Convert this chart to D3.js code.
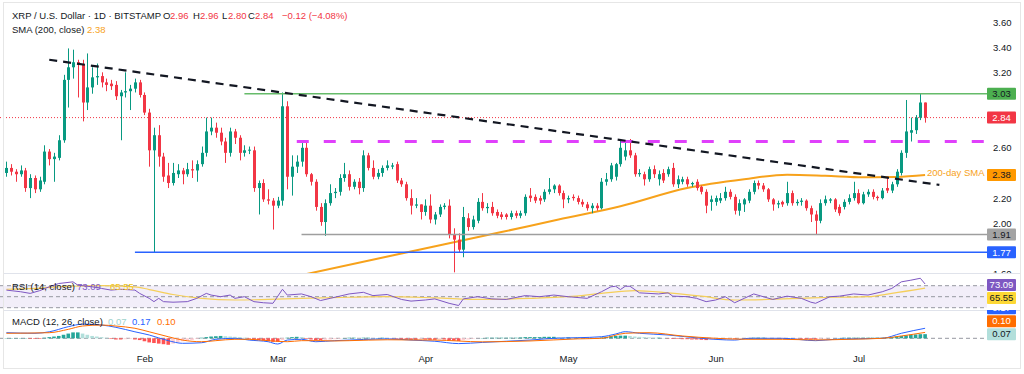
<!DOCTYPE html>
<html>
<head>
<meta charset="utf-8">
<title>XRP / U.S. Dollar</title>
<script src="https://cdn.jsdelivr.net/npm/d3@7"></script>
<style>
    body { margin: 0; background: #ffffff; }
    #chart svg { display: block; font-family: "Liberation Sans", Arial, sans-serif; }
</style>
</head>
<body>
<div id="chart"></div>
<script>
// daily candles, one per day from startDay to endDay
const startDay = "2025-01-03";
const endDay = "2025-07-15";

const opens = [
    2.40,2.44,2.41,2.39,2.42,2.28,2.36,2.27,2.33,2.57, 2.51,2.52,2.66,3.14,3.24,3.28,3.26,2.96,3.08,3.16,
    3.17,3.12,3.11,3.10,3.01,3.04,3.05,3.07,3.12,3.02, 2.88,2.58,2.70,2.53,2.38,2.32,2.39,2.42,2.39,2.43,
    2.42,2.47,2.56,2.73,2.76,2.72,2.65,2.56,2.73,2.68, 2.56,2.58,2.58,2.28,2.32,2.19,2.18,2.14,2.18,2.93,
    2.37,2.45,2.49,2.60,2.39,2.33,2.13,2.01,2.16,2.24, 2.25,2.36,2.39,2.29,2.33,2.28,2.54,2.44,2.37,2.40,
    2.44,2.45,2.47,2.34,2.31,2.20,2.14,2.15,2.09,2.14, 2.03,2.07,2.13,2.14,1.91,1.87,1.79,2.04,1.97,2.02,
    2.17,2.12,2.13,2.09,2.07,2.07,2.05,2.08,2.06,2.08, 2.22,2.21,2.20,2.19,2.25,2.27,2.30,2.24,2.19,2.21,
    2.20,2.17,2.15,2.12,2.14,2.12,2.33,2.35,2.37,2.47, 2.53,2.58,2.54,2.39,2.39,2.35,2.43,2.35,2.40,2.39,
    2.44,2.31,2.33,2.35,2.31,2.33,2.29,2.25,2.17,2.17, 2.18,2.20,2.25,2.21,2.10,2.15,2.18,2.25,2.32,2.30,
    2.27,2.19,2.15,2.17,2.16,2.24,2.16,2.17,2.18,2.12, 2.07,2.02,2.16,2.18,2.19,2.13,2.13,2.17,2.20,2.24,
    2.16,2.23,2.25,2.21,2.20,2.28,2.26,2.31,2.40,2.56, 2.72,2.74,2.84,2.96
];
const highs = [
    2.49,2.47,2.43,2.46,2.44,2.39,2.38,2.37,2.62,2.59, 2.56,2.70,3.18,3.39,3.38,3.30,3.30,3.35,3.24,3.27,
    3.20,3.15,3.14,3.13,3.06,3.20,3.10,3.15,3.14,3.04, 2.91,2.76,2.78,2.56,2.48,2.48,2.47,2.44,2.48,2.50,
    2.50,2.61,2.84,2.84,2.80,2.76,2.68,2.76,2.75,2.70, 2.62,2.61,2.61,2.34,2.35,2.27,2.20,2.21,3.04,2.97,
    2.54,2.54,2.64,2.64,2.40,2.35,2.16,2.19,2.31,2.28, 2.39,2.48,2.42,2.35,2.36,2.58,2.56,2.50,2.43,2.46,
    2.50,2.48,2.49,2.36,2.33,2.27,2.20,2.15,2.19,2.23, 2.09,2.15,2.16,2.19,1.96,1.92,2.13,2.08,2.06,2.20,
    2.24,2.16,2.17,2.11,2.09,2.08,2.10,2.10,2.10,2.23, 2.28,2.23,2.22,2.27,2.36,2.31,2.31,2.26,2.22,2.23,
    2.22,2.19,2.17,2.16,2.16,2.36,2.40,2.48,2.48,2.67, 2.65,2.67,2.56,2.43,2.41,2.45,2.46,2.42,2.43,2.45,
    2.48,2.38,2.37,2.37,2.33,2.35,2.30,2.27,2.22,2.22, 2.24,2.29,2.27,2.23,2.19,2.20,2.27,2.34,2.34,2.32,
    2.28,2.20,2.18,2.18,2.33,2.26,2.19,2.20,2.19,2.14, 2.10,2.19,2.22,2.20,2.20,2.15,2.19,2.23,2.33,2.27,
    2.25,2.27,2.27,2.22,2.28,2.37,2.33,2.43,2.58,2.98, 2.84,2.86,3.03,2.96
];
const lows = [
    2.37,2.38,2.33,2.37,2.25,2.20,2.24,2.25,2.31,2.46, 2.33,2.50,2.64,2.92,3.15,3.00,2.81,2.90,3.03,3.10,
    3.08,3.05,3.06,2.98,2.66,3.00,2.90,3.04,3.00,2.86, 2.45,1.77,2.45,2.33,2.28,2.30,2.36,2.31,2.37,2.36,
    2.33,2.45,2.53,2.70,2.68,2.62,2.48,2.53,2.63,2.50, 2.53,2.55,2.25,2.07,2.17,2.15,1.95,2.12,2.14,2.27,
    2.22,2.40,2.45,2.37,2.30,2.10,1.98,1.90,2.14,2.20, 2.22,2.33,2.26,2.27,2.23,2.25,2.42,2.35,2.35,2.37,
    2.42,2.43,2.32,2.29,2.18,2.07,2.12,2.03,2.06,2.00, 1.99,2.05,2.11,1.88,1.61,1.77,1.73,1.94,1.95,2.00,
    2.10,2.08,2.06,2.04,2.03,2.03,2.03,2.04,2.04,2.06, 2.17,2.16,2.15,2.17,2.23,2.24,2.22,2.12,2.16,2.18,
    2.15,2.13,2.10,2.08,2.10,2.11,2.30,2.33,2.34,2.45, 2.50,2.52,2.37,2.37,2.30,2.33,2.36,2.30,2.32,2.37,
    2.29,2.28,2.31,2.29,2.29,2.26,2.23,2.08,2.10,2.14, 2.16,2.18,2.19,2.07,2.06,2.09,2.16,2.23,2.27,2.25,
    2.17,2.10,2.12,2.13,2.14,2.14,2.14,2.14,2.10,2.01, 1.91,2.00,2.14,2.16,2.09,2.06,2.11,2.15,2.18,2.15,
    2.15,2.21,2.19,2.18,2.19,2.24,2.24,2.29,2.38,2.52, 2.65,2.71,2.82,2.80
];
const closes = [
    2.44,2.41,2.39,2.42,2.28,2.36,2.27,2.34,2.57,2.51, 2.53,2.66,3.14,3.24,3.28,3.26,2.96,3.08,3.16,3.17,
    3.12,3.10,3.09,3.01,3.04,3.05,3.07,3.12,3.02,2.88, 2.58,2.70,2.53,2.37,2.32,2.40,2.42,2.39,2.43,2.42,
    2.47,2.56,2.73,2.76,2.72,2.65,2.56,2.73,2.68,2.56, 2.58,2.585,2.28,2.32,2.19,2.18,2.14,2.18,2.93,2.37,
    2.45,2.49,2.60,2.39,2.33,2.13,2.01,2.16,2.24,2.25, 2.36,2.39,2.29,2.33,2.28,2.54,2.44,2.37,2.40,2.44,
    2.46,2.46,2.34,2.31,2.20,2.14,2.15,2.09,2.14,2.03, 2.07,2.13,2.14,1.91,1.87,1.79,2.05,1.97,2.03,2.17,
    2.12,2.13,2.08,2.06,2.05,2.05,2.08,2.06,2.08,2.21, 2.20,2.18,2.18,2.25,2.27,2.30,2.24,2.19,2.20,2.20,
    2.17,2.15,2.12,2.14,2.12,2.33,2.35,2.46,2.47,2.60, 2.58,2.54,2.39,2.40,2.35,2.43,2.39,2.39,2.34,2.43,
    2.31,2.35,2.35,2.31,2.32,2.28,2.25,2.14,2.19,2.20, 2.20,2.25,2.21,2.10,2.16,2.19,2.25,2.32,2.30,2.27,
    2.19,2.15,2.16,2.15,2.24,2.16,2.17,2.18,2.12,2.07, 2.02,2.16,2.19,2.19,2.11,2.08,2.17,2.20,2.24,2.16,
    2.23,2.25,2.21,2.20,2.26,2.26,2.31,2.41,2.56,2.73, 2.74,2.84,2.96,2.84
];

// 200-day SMA, read at points along the curve (MM-DD, 2025)
const smaDates = ["03-06","03-27","04-17","04-29","05-12","05-26","06-07","06-16","06-24","07-02","07-09","07-15"];
const smaValues = [1.588, 1.76, 1.93, 2.03, 2.135, 2.28, 2.35, 2.386, 2.378, 2.366, 2.368, 2.383];

// drawn trend line and horizontal levels
const trendDates = ["01-12", "07-18"];
const trendPrices = [3.30, 2.305];
const levelNames = ["top", "neckline", "floor", "base"];
const levelPrices = [3.03, 2.65, 1.91, 1.77];
const levelStarts = ["02-22", "03-05", "03-06", "01-30"];

// RSI (14) and its moving average
const rsiDates = ["01-03","01-06","01-08","01-10","01-12","01-14","01-17","01-18","01-21","01-23","01-25","01-27","01-30","01-31",
    "02-02","02-03","02-04","02-05","02-07","02-10","02-12","02-14","02-15","02-17","02-19","02-20","02-22","02-24","02-26","02-28",
    "03-02","03-03","03-06","03-08","03-10","03-12","03-14","03-16","03-19","03-21","03-24","03-27","03-29",
    "04-01","04-03","04-06","04-08","04-09","04-12","04-15","04-18","04-22","04-25","04-28",
    "05-01","05-05","05-08","05-10","05-11","05-12","05-13","05-14","05-16","05-18","05-20","05-22","05-23","05-26","05-28","05-30",
    "06-01","06-03","06-05","06-07","06-09","06-11","06-13","06-16","06-19","06-21","06-22","06-25","06-27","06-30",
    "07-03","07-06","07-08","07-10","07-12","07-14","07-15"];
const rsiValues = [62,59,56,61,68,74,77,71,68,65,62,63.5,62,56,
    47,41,47,41,40,41,47,56,53,50,53,47,50,41,39,38,
    63.5,53,55,50,43,47,51,55,58,52,54,45,42,
    44,46,38,34,46,50,46,45,52,50,53,
    50,47,59,68,69,63,69,69,57,56,55,57,51,50,47,41,
    44,50,39,47,55,50,45,51,47,40,38,50,51,55,
    53,59,65,77,80,83.5,73.09];
const rsiMaDates = ["01-03","01-09","01-16","01-23","01-30","02-02","02-07","02-13","02-20","02-27","03-06","03-16","03-24",
    "04-03","04-13","04-23","05-01","05-08","05-15","05-22","05-29","06-05","06-12","06-19","06-26","07-03","07-08","07-15"];
const rsiMaValues = [63.5,65,69,70,68,63,54,47,44,45,47,49,50,48,45,47,50,56,61,57,51,44,45,47,49,50,56,65.55];

// MACD (12, 26) line, signal line and daily histogram
const macdDates = ["01-03","01-09","01-12","01-16","01-19","01-23","01-26","01-30","02-02","02-06","02-09","02-13","02-16","02-20",
    "02-23","02-27","03-01","03-03","03-06","03-09","03-13","03-16","03-19","03-24","03-29","04-03","04-08","04-13","04-18",
    "04-23","04-28","05-03","05-08","05-11","05-13","05-16","05-22","05-29","06-05","06-08","06-15","06-22","06-26","07-06","07-10","07-15"];
const macdValues = [0.095,0.085,0.11,0.197,0.24,0.225,0.186,0.11,0.056,-0.04,-0.085,-0.075,-0.017,0,
    -0.03,-0.058,-0.097,-0.03,-0.017,-0.058,-0.04,-0.03,-0.02,-0.01,-0.03,-0.05,-0.09,-0.07,-0.05,
    -0.03,0,0.01,0.027,0.073,0.112,0.085,0.056,0,-0.03,0,0,-0.04,-0.017,0,0.085,0.17];
const signalDates = ["01-03","01-12","01-16","01-19","01-23","01-26","01-30","02-02","02-06","02-09","02-13","02-16","02-20",
    "02-23","02-27","03-03","03-06","03-10","03-13","03-16","03-24","04-03","04-13","04-23","05-03","05-08","05-13","05-18",
    "05-25","06-01","06-08","06-15","06-22","06-29","07-06","07-10","07-15"];
const signalValues = [0.085,0.095,0.152,0.208,0.225,0.208,0.17,0.11,0.027,-0.03,-0.058,-0.04,-0.017,
    -0.017,-0.04,-0.058,-0.04,-0.04,-0.045,-0.04,-0.025,-0.03,-0.06,-0.045,-0.01,0,0.085,0.095,
    0.039,0,-0.017,-0.017,-0.028,-0.017,0,0.039,0.10];
const histValues = [
    0.005,0.005,0.005,0.005,0.005, -0.01,-0.01,-0.01,
    0.01,0.02,0.03,0.04,0.06,0.08,0.10,0.10, 0.08,0.06,0.04,0.03,0.02,0.01,
    -0.01,-0.02,-0.02,-0.015,-0.01,-0.02, -0.03,-0.05,-0.07,-0.08,-0.09,-0.10,-0.11,
    -0.09,-0.07,-0.05,-0.04,-0.03,-0.01,
    0.01,0.02,0.03,0.035,0.04,0.035,0.03,0.025,0.02,0.01,
    -0.01,-0.02,-0.03,-0.04,-0.05,-0.06,-0.06, -0.03,0.01,0.02,0.025,0.02,
    -0.01,-0.02,-0.03,-0.03,-0.025,-0.02,-0.015,-0.01,
    0.005,0.01,0.01,0.005,0.01,0.01,0.005,0.005,0.01,0.005,
    -0.005,-0.01,-0.015,-0.02,-0.025,-0.025,-0.02,-0.02,-0.025,-0.025,-0.02,-0.02,-0.03,-0.04,-0.045,
    -0.03,-0.02,-0.01,0,0.005,0.01,0.01,0.01,0.01,0.01,0.01,0.01,0.015,0.02,0.02,
    0.02,0.02,0.025,0.025,0.025,0.02,0.015,0.015,0.01,0.01,0.005,0.005,0.005,0.005,
    0.015,0.025,0.035,0.04,0.045,0.045,0.04,0.03,0.025,0.02, 0.015,0.01,0.01,0.005,
    -0.005,-0.01,-0.01,-0.015,-0.015,-0.02,-0.02,-0.025,-0.03,-0.025,-0.02,-0.02,-0.015,-0.01,
    -0.01,-0.005,0,0.005,0.01,0.01, 0.01,0.005,0,-0.005,-0.005,0,0,-0.005,
    -0.01,-0.015,-0.02,-0.02,-0.015,-0.01,-0.005,0,0.005,
    0.01,0.01,0.01,0.01,0.01,0.01,0.01,0.01,0.01,0.015,0.02,
    0.03,0.04,0.05,0.06,0.065,0.07,0.07
];

// axis ticks
const priceTicks = [3.60, 3.40, 3.20, 3.00, 2.80, 2.60, 2.40, 2.20, 2.00, 1.80, 1.60];
const rsiGuides = [70, 50, 30];

const parseDay = d3.utcParse("%Y-%m-%d");
function md(s) { return parseDay("2025-" + s); }
function pairs(dates, values) {
    return dates.map(function(d, i) { return {date: md(d), value: values[i]} });
}

const plotRight = 987;
const fmt = d3.format(".2f");

function init() {
    const svg = d3.select("#chart").append("svg")
        .attr("width", 1024)
        .attr("height", 374);

    svg.append("rect").attr("width", 1024).attr("height", 374).attr("fill", "#ffffff");

    const days = d3.utcDay.range(parseDay(startDay), d3.utcDay.offset(parseDay(endDay), 1));

    const x = d3.scaleUtc()
        .domain([parseDay(startDay), parseDay(endDay)])
        .range([6.4, 925.1]);
    const y = d3.scaleLinear().domain([1.60, 3.60]).range([273.6, 22]);
    const yRsi = d3.scaleLinear().domain([30, 70]).range([307.7, 285.7]);
    const yMacd = d3.scaleLinear().domain([-0.1, 0.2]).range([344.2, 326.5]);

    // clip regions for the three panes
    const defs = svg.append("defs");
    [["clip-main", 0, 273, plotRight], ["clip-rsi", 274, 36, plotRight], ["clip-macd", 311, 37, plotRight],
     ["clip-axis", 0, 273, 1024], ["clip-macd-tags", 310, 40, 1024]].forEach(function(c) {
        defs.append("clipPath").attr("id", c[0]).append("rect")
            .attr("x", 0).attr("y", c[1]).attr("width", c[3]).attr("height", c[2]);
    });

    drawMain(svg, days, x, y);
    drawRsi(svg, x, yRsi);
    drawMacd(svg, days, x, yMacd);

    // pane separators and frame
    [273.5, 310.5].forEach(function(v) {
        svg.append("line").attr("x1", 4).attr("x2", 1020).attr("y1", v).attr("y2", v)
            .attr("stroke", "#e0e3eb").attr("stroke-width", 1);
    });
    svg.append("rect").attr("x", 3.5).attr("y", 2.5).attr("width", 1017).attr("height", 366)
        .attr("fill", "none").attr("stroke", "#e6e6e6");

    // tags on the price scale
    const lastClose = closes[closes.length - 1];
    const lastSma = smaValues[smaValues.length - 1];
    const tagPrices = [levelPrices[0], lastClose, lastSma, levelPrices[2], levelPrices[3]];

    // price axis, skipping the ticks hidden under a tag
    const yAxis = svg.append("g")
        .attr("transform", "translate(993,0)")
        .attr("clip-path", "url(#clip-axis)")
        .style("font-size", "9.5px")
        .call(d3.axisRight(y)
            .tickValues(priceTicks.filter(p => tagPrices.every(t => Math.abs(y(p) - y(t)) > 9)))
            .tickSize(0).tickPadding(0).tickFormat(fmt));
    yAxis.select(".domain").remove();
    yAxis.selectAll("text").attr("fill", "#131722").style("font-family", "Liberation Sans, Arial, sans-serif");

    // time axis
    const xAxis = svg.append("g")
        .attr("transform", "translate(0,355.5)")
        .style("font-size", "9.5px")
        .call(d3.axisBottom(x).ticks(d3.utcMonth.every(1)).tickSize(0).tickPadding(0).tickFormat(d3.utcFormat("%b")));
    xAxis.select(".domain").remove();
    xAxis.selectAll("text").attr("fill", "#131722").style("font-family", "Liberation Sans, Arial, sans-serif");

    priceTag(svg, y(levelPrices[0]), fmt(levelPrices[0]), "#4caf50", "#131722");
    priceTag(svg, y(lastClose), fmt(lastClose), "#f23645", "#ffffff");
    priceTag(svg, y(lastSma), fmt(lastSma), "#ff9800", "#131722");
    priceTag(svg, y(levelPrices[2]), fmt(levelPrices[2]), "#a3a3a3", "#131722");
    priceTag(svg, y(levelPrices[3]), fmt(levelPrices[3]), "#2962ff", "#ffffff");

    const rsiLast = rsiValues[rsiValues.length - 1];
    const rsiMaLast = rsiMaValues[rsiMaValues.length - 1];
    const rsiTagY = yRsi(rsiLast) + 1;
    priceTag(svg, rsiTagY, fmt(rsiLast), "#7e57c2", "#ffffff");
    priceTag(svg, Math.max(yRsi(rsiMaLast), rsiTagY + 13), fmt(rsiMaLast), "#fdd835", "#131722");

    // macd tags stack upwards from the histogram tag
    const macdLast = macdValues[macdValues.length - 1];
    const signalLast = signalValues[signalValues.length - 1];
    const histLast = histValues[histValues.length - 1];
    const histTagY = yMacd(histLast);
    const tagsMacd = svg.append("g").attr("clip-path", "url(#clip-macd-tags)");
    priceTag(tagsMacd, histTagY - 26, fmt(macdLast), "#2962ff", "#ffffff");
    priceTag(tagsMacd, histTagY - 13, fmt(signalLast), "#ff6d00", "#ffffff");
    priceTag(tagsMacd, histTagY, fmt(histLast), "#b2dfdb", "#131722");

    // legends
    legend(svg, 19, [
        ["XRP / U.S. Dollar · 1D · BITSTAMP", "#131722", 12],
        ["O", "#131722", 163], ["2.96", "#f23645", 170],
        ["H", "#131722", 193], ["2.96", "#f23645", 200],
        ["L", "#131722", 222], ["2.80", "#f23645", 228],
        ["C", "#131722", 248], ["2.84", "#f23645", 255],
        ["−0.12 (−4.08%)", "#f23645", 282]
    ]);
    legend(svg, 33, [["SMA (200, close)", "#131722", 12], ["2.38", "#f7a21b", 87]]);
    legend(svg, 290, [["RSI (14, close)", "#131722", 12], ["73.09", "#7e57c2", 77], ["65.55", "#f0c419", 110]]);
    legend(svg, 325, [["MACD (12, 26, close)", "#131722", 12], ["0.07", "#9fd3cd", 108], ["0.17", "#2962ff", 132], ["0.10", "#ff6d00", 157]]);
}

function drawMain(svg, days, x, y) {
    const g = svg.append("g").attr("clip-path", "url(#clip-main)");

    const candles = days.map(function(d, i) {
        return {date: d, o: opens[i], h: highs[i], l: lows[i], c: closes[i]};
    });

    // current price dotted line
    g.append("line")
        .attr("x1", 0).attr("x2", plotRight)
        .attr("y1", y(closes[closes.length - 1])).attr("y2", y(closes[closes.length - 1]))
        .attr("stroke", "#f23645").attr("stroke-width", 1).attr("stroke-dasharray", "1,2");

    // 200 SMA
    g.append("path")
        .datum(pairs(smaDates, smaValues))
        .attr("fill", "none")
        .attr("stroke", "#f7a21b")
        .attr("stroke-width", 2)
        .attr("d", d3.line().x(d => x(d.date)).y(d => y(d.value)).curve(d3.curveMonotoneX));

    // candles
    const up = "#089981", down = "#f23645";
    g.selectAll("line.wick").data(candles).enter().append("line")
        .attr("class", "wick")
        .attr("x1", d => Math.round(x(d.date)) + 0.5)
        .attr("x2", d => Math.round(x(d.date)) + 0.5)
        .attr("y1", d => y(d.h))
        .attr("y2", d => y(d.l))
        .attr("stroke", d => d.c >= d.o ? up : down)
        .attr("stroke-width", 1);
    g.selectAll("rect.body").data(candles).enter().append("rect")
        .attr("class", "body")
        .attr("x", d => Math.round(x(d.date)) - 1)
        .attr("width", 3)
        .attr("y", d => y(Math.max(d.o, d.c)))
        .attr("height", d => Math.max(1, Math.abs(y(d.o) - y(d.c))))
        .attr("fill", d => d.c >= d.o ? up : down);

    // horizontal levels
    const levelStyle = {
        top: {color: "#66bb6a", width: 1.5, dash: null},
        neckline: {color: "#e040fb", width: 3, dash: "12,15"},
        floor: {color: "#9e9e9e", width: 1.5, dash: null},
        base: {color: "#2962ff", width: 1.5, dash: null}
    };
    levelNames.forEach(function(name, i) {
        const s = levelStyle[name];
        g.append("line")
            .attr("x1", x(md(levelStarts[i]))).attr("x2", plotRight)
            .attr("y1", y(levelPrices[i])).attr("y2", y(levelPrices[i]))
            .attr("stroke", s.color).attr("stroke-width", s.width)
            .attr("stroke-dasharray", s.dash);
    });

    // falling trend line
    g.append("line")
        .attr("x1", x(md(trendDates[0]))).attr("y1", y(trendPrices[0]))
        .attr("x2", x(md(trendDates[1]))).attr("y2", y(trendPrices[1]))
        .attr("stroke", "#131722").attr("stroke-width", 2.2).attr("stroke-dasharray", "8,6");

    // sma label
    svg.append("text")
        .attr("x", 927).attr("y", 176)
        .attr("fill", "#f7a21b")
        .style("font-size", "9.5px")
        .text("200-day SMA");
}

function drawRsi(svg, x, yRsi) {
    const g = svg.append("g").attr("clip-path", "url(#clip-rsi)");

    g.append("rect")
        .attr("x", 0).attr("width", plotRight)
        .attr("y", yRsi(70)).attr("height", yRsi(30) - yRsi(70))
        .attr("fill", "#7e57c2").attr("fill-opacity", 0.1);

    rsiGuides.forEach(function(v) {
        g.append("line")
            .attr("x1", 0).attr("x2", plotRight)
            .attr("y1", yRsi(v)).attr("y2", yRsi(v))
            .attr("stroke", "#9598a1").attr("stroke-width", 1).attr("stroke-dasharray", "4,3");
    });

    g.append("path").datum(pairs(rsiMaDates, rsiMaValues))
        .attr("fill", "none").attr("stroke", "#f5cf5a").attr("stroke-width", 1.2)
        .attr("d", d3.line().x(d => x(d.date)).y(d => yRsi(d.value)).curve(d3.curveMonotoneX));
    g.append("path").datum(pairs(rsiDates, rsiValues))
        .attr("fill", "none").attr("stroke", "#7e57c2").attr("stroke-width", 1)
        .attr("d", d3.line().x(d => x(d.date)).y(d => yRsi(d.value)));
}

function drawMacd(svg, days, x, yMacd) {
    const g = svg.append("g").attr("clip-path", "url(#clip-macd)");

    g.append("line")
        .attr("x1", 0).attr("x2", plotRight)
        .attr("y1", yMacd(0)).attr("y2", yMacd(0))
        .attr("stroke", "#9598a1").attr("stroke-width", 1).attr("stroke-dasharray", "4,3");

    // histogram, shaded by rising / falling
    g.selectAll("rect.hist").data(histValues).enter().append("rect")
        .attr("class", "hist")
        .attr("x", (d, i) => x(days[i]) - 1.8)
        .attr("width", 3.6)
        .attr("y", d => yMacd(Math.max(0, d)))
        .attr("height", d => Math.abs(yMacd(d) - yMacd(0)))
        .attr("fill", function(d, i) {
            const prev = i > 0 ? histValues[i - 1] : d;
            if (d >= 0) return d >= prev ? "#26a69a" : "#b2dfdb";
            return d <= prev ? "#ff5252" : "#ffcdd2";
        });

    g.append("path").datum(pairs(macdDates, macdValues))
        .attr("fill", "none").attr("stroke", "#2962ff").attr("stroke-width", 1)
        .attr("d", d3.line().x(d => x(d.date)).y(d => yMacd(d.value)).curve(d3.curveMonotoneX));
    g.append("path").datum(pairs(signalDates, signalValues))
        .attr("fill", "none").attr("stroke", "#ff6d00").attr("stroke-width", 1)
        .attr("d", d3.line().x(d => x(d.date)).y(d => yMacd(d.value)).curve(d3.curveMonotoneX));
}

function priceTag(g, yPos, label, bg, fg) {
    g.append("rect")
        .attr("x", 987).attr("y", yPos - 6)
        .attr("width", 29).attr("height", 12)
        .attr("rx", 1)
        .attr("fill", bg);
    g.append("text")
        .attr("x", 1001.5).attr("y", yPos)
        .attr("dy", "0.35em")
        .attr("text-anchor", "middle")
        .attr("fill", fg)
        .style("font-size", "9.5px")
        .text(label);
}

function legend(svg, yBase, parts) {
    const t = svg.append("text").attr("y", yBase).style("font-size", "9.5px");
    parts.forEach(function(p) {
        t.append("tspan").attr("x", p[2]).attr("fill", p[1]).text(p[0]);
    });
}

window.onload = init();
</script>
</body>
</html>
